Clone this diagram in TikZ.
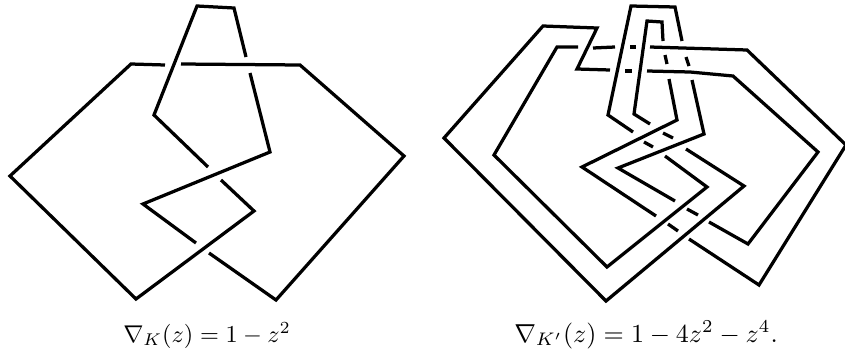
\documentclass[tikz,border=0pt]{standalone}
\usepackage{amsmath,amssymb}
\begin{document}
\begin{tikzpicture}[
    x=0.4pt,
    y=-0.4pt,
    strand/.style={draw=black, line width=1.3pt, line join=miter},
    lab/.style={anchor=base, inner sep=0pt}
  ]
    \useasboundingbox (0,0) rectangle (845,353);

    % left knot
    \draw[strand] (165,65) -- (131,64) -- (10,176) -- (136,299) -- (254,211) -- (221,180);
    \draw[strand] (181,64) -- (300,65) -- (404,156) -- (276,300) -- (209,253);
    \draw[strand] (196,243) -- (143,204) -- (270,152) -- (250,73);
    \draw[strand] (246,57) -- (234,8) -- (197,6) -- (154,115) -- (208,167);

    % right knot, outer band
    \draw[strand] (610,70) -- (577,69) -- (597,28) -- (543,26) -- (444,138) -- (606,301)
      -- (744,186) -- (686,149);
    \draw[strand] (625,71) -- (632,71);
    \draw[strand] (647,71) -- (690,72) -- (733,76) -- (818,152) -- (748,244) -- (709,222);
    \draw[strand] (687,209) -- (698,215);
    \draw[strand] (675,201) -- (618,168) -- (704,134) -- (692,80);
    \draw[strand] (686,57) -- (689,66);
    \draw[strand] (682,41) -- (675,7) -- (631,6) -- (608,115) -- (633,132);
    \draw[strand] (644,142) -- (653,147);
    \draw[strand] (665,156) -- (707,187) -- (607,267) -- (494,155) -- (557,47) -- (578,47);

    % right knot, inner band
    \draw[strand] (593,48) -- (615,47);
    \draw[strand] (630,47) -- (636,47);
    \draw[strand] (650,47) -- (747,50) -- (846,145) -- (759,285) -- (689,239);
    \draw[strand] (668,224) -- (678,231);
    \draw[strand] (656,216) -- (582,167) -- (677,120) -- (669,79);
    \draw[strand] (665,55) -- (667,64);
    \draw[strand] (663,41) -- (662,22) -- (647,21) -- (634,114) -- (650,124);
    \draw[strand] (663,133) -- (673,138);

    \node[lab, scale=.97] (polyK) at (207,342) {$\nabla_K(z)=1-z^2$};
    \node[lab, scale=1.04] (polyKprime) at (646,342) {$\nabla_{K'}(z)=1-4z^2-z^4.$};
\end{tikzpicture}
\end{document}
